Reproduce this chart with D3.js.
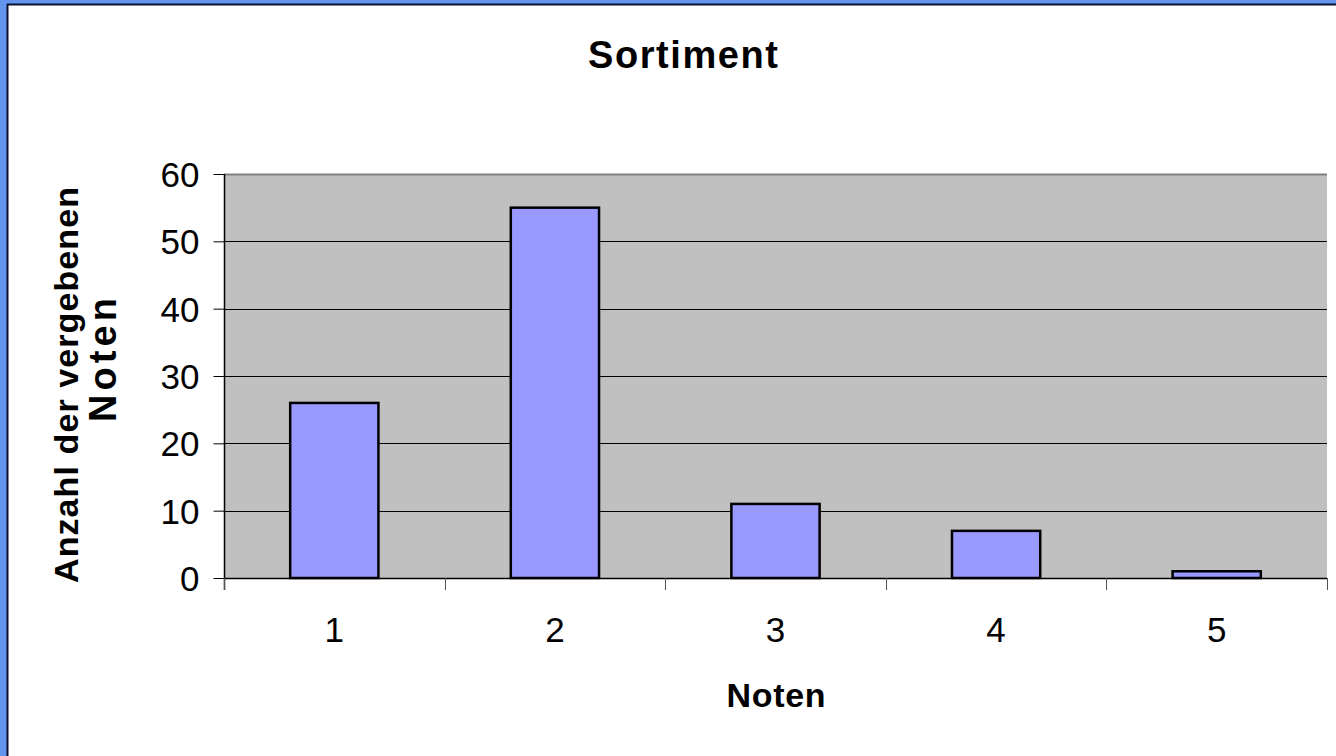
<!DOCTYPE html>
<html>
<head>
<meta charset="utf-8">
<script src="https://cdn.jsdelivr.net/npm/d3@7"></script>
<style>
  html, body { margin: 0; padding: 0; background: #6495ED; }
  svg { display: block; }
  text { font-family: "Liberation Sans", Arial, sans-serif; fill: #000; }
</style>
</head>
<body>
<script>
const categories = ["1", "2", "3", "4", "5"];
const values = [26, 55, 11, 7, 1];
const yTicks = [0, 10, 20, 30, 40, 50, 60];
const chartTitle = "Sortiment";
const xTitle = "Noten";
const yTitleLines = ["Anzahl der vergebenen", "Noten"];

const W = 1336, H = 756;
const svg = d3.select("body").append("svg").attr("width", W).attr("height", H);

// blue frame & chart area
svg.append("rect").attr("x", 0).attr("y", 0).attr("width", W).attr("height", H).attr("fill", "#6495ED");
svg.append("rect").attr("x", 8).attr("y", 5).attr("width", W).attr("height", H).attr("fill", "#ffffff");
svg.append("line").attr("x1", 7.5).attr("y1", 4).attr("x2", 7.5).attr("y2", H).attr("stroke", "#0a1030").attr("stroke-width", 2);
svg.append("line").attr("x1", 7).attr("y1", 4.5).attr("x2", W).attr("y2", 4.5).attr("stroke", "#0a1030").attr("stroke-width", 2);

const pLeft = 224, pRight = 1327, pTop = 174, pBottom = 578;

const x = d3.scaleBand().domain(categories).range([pLeft, pRight]).paddingInner(0.6).paddingOuter(0.3);
const y = d3.scaleLinear().domain([0, 60]).range([pBottom, pTop]);

// plot background
svg.append("rect").attr("x", pLeft).attr("y", pTop).attr("width", pRight - pLeft).attr("height", pBottom - pTop).attr("fill", "#C0C0C0");

// gridlines
svg.append("g").selectAll("line").data(yTicks.filter(d => d > 0)).join("line")
  .attr("x1", pLeft).attr("x2", pRight)
  .attr("y1", d => Math.round(y(d)) + 0.5).attr("y2", d => Math.round(y(d)) + 0.5)
  .attr("stroke", d => d === 60 ? "#808080" : "#000").attr("stroke-width", d => d === 60 ? 2 : 1);

// y axis
const yAxis = d3.axisLeft(y).tickValues(yTicks).tickSize(11).tickPadding(14);
const gy = svg.append("g").attr("transform", `translate(${pLeft + 0.5},0)`).call(yAxis);
gy.select(".domain").remove();
gy.selectAll(".tick line").attr("stroke", "#000");
gy.selectAll(".tick text").attr("font-size", 35).attr("font-family", "Liberation Sans, Arial, sans-serif").attr("fill", "#000").attr("dy", "0.36em");
svg.append("line").attr("x1", pLeft + 0.5).attr("x2", pLeft + 0.5).attr("y1", pTop).attr("y2", pBottom + 12).attr("stroke", "#000").attr("stroke-width", 1.5);
svg.append("line").attr("x1", pLeft).attr("x2", pRight).attr("y1", pBottom + 0.5).attr("y2", pBottom + 0.5).attr("stroke", "#000").attr("stroke-width", 1.5);

// x category boundary ticks
const step = x.step();
const half = (step - x.bandwidth()) / 2;
const boundaries = categories.map(c => x(c) - half).concat([x(categories[categories.length - 1]) + x.bandwidth() + half]);
svg.append("g").selectAll("line").data(boundaries).join("line")
  .attr("x1", d => Math.round(d) + 0.5).attr("x2", d => Math.round(d) + 0.5)
  .attr("y1", pBottom).attr("y2", pBottom + 12)
  .attr("stroke", "#555").attr("stroke-width", 1);

// x labels
svg.append("g").selectAll("text").data(categories).join("text")
  .attr("x", d => x(d) + x.bandwidth() / 2).attr("y", 642)
  .attr("text-anchor", "middle").attr("font-size", 35).text(d => d);

// bars
svg.append("g").selectAll("rect").data(values).join("rect")
  .attr("x", (d, i) => x(categories[i]))
  .attr("y", d => y(d))
  .attr("width", x.bandwidth())
  .attr("height", d => pBottom - y(d))
  .attr("fill", "#9999FF").attr("stroke", "#000").attr("stroke-width", 2.5);

// titles
svg.append("text").attr("x", 683).attr("y", 68).attr("text-anchor", "middle")
  .attr("font-size", 38).attr("font-weight", "bold")
  .attr("textLength", 190).attr("lengthAdjust", "spacing").text(chartTitle);

svg.append("text").attr("x", 776).attr("y", 707).attr("text-anchor", "middle")
  .attr("font-size", 34).attr("font-weight", "bold")
  .attr("textLength", 99).attr("lengthAdjust", "spacing").text(xTitle);

const yTitlePos = [{bx: 78, cy: 385, len: 396, fs: 34}, {bx: 116, cy: 360, len: 124, fs: 38}];
yTitleLines.forEach((t, i) => {
  const p = yTitlePos[i];
  svg.append("text").attr("transform", `translate(${p.bx},${p.cy}) rotate(-90)`)
    .attr("text-anchor", "middle").attr("font-size", p.fs).attr("font-weight", "bold")
    .attr("textLength", p.len).attr("lengthAdjust", "spacing").text(t);
});
</script>
</body>
</html>
